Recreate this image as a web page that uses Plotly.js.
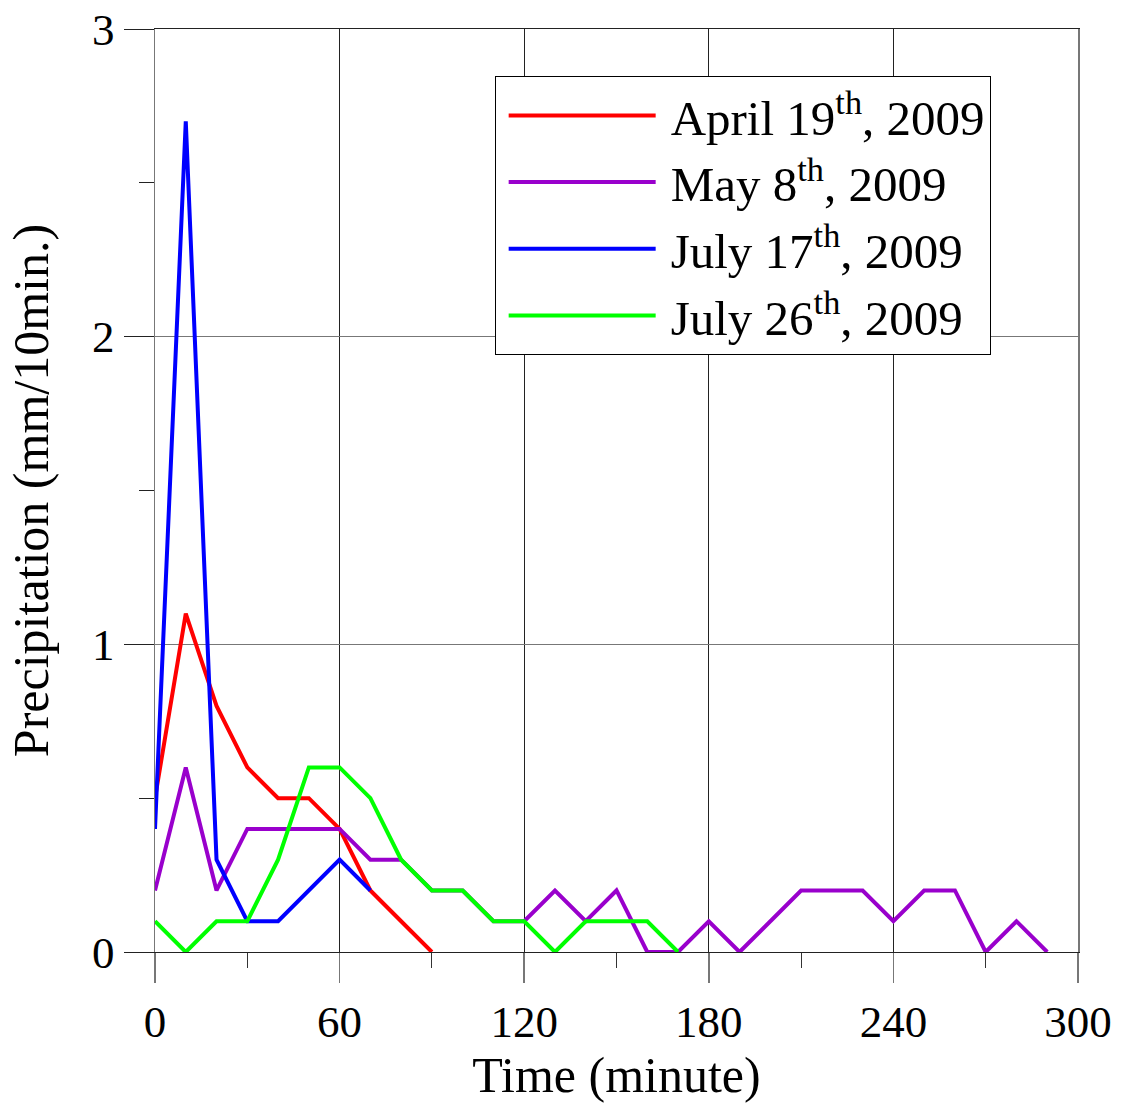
<!DOCTYPE html>
<html>
<head>
<meta charset="utf-8">
<script src="https://cdn.plot.ly/plotly-3.0.1.min.js"></script>
<style>html,body{margin:0;padding:0;background:#fff;}#chart{width:1121px;height:1108px;}</style>
</head>
<body>
<div id="chart"></div>
<script>
// Time axis (minutes) and series values (mm/10min.)
const timeApr19 = [0,10,20,30,40,50,60,70,80,90];
const precipApr19 = [0.5,1.1,0.8,0.6,0.5,0.5,0.4,0.2,0.1,0];

const timeMay8 = [0,10,20,30,40,50,60,70,80,90,100,110,120,130,140,150,160,170,180,190,200,210,220,230,240,250,260,270,280,290];
const precipMay8 = [0.2,0.6,0.2,0.4,0.4,0.4,0.4,0.3,0.3,0.2,0.2,0.1,0.1,0.2,0.1,0.2,0,0,0.1,0,0.1,0.2,0.2,0.2,0.1,0.2,0.2,0,0.1,0];

const timeJul17 = [0,10,20,30,40,50,60,70];
const precipJul17 = [0.4,2.7,0.3,0.1,0.1,0.2,0.3,0.2];

const timeJul26 = [0,10,20,30,40,50,60,70,80,90,100,110,120,130,140,150,160,170];
const precipJul26 = [0.1,0,0.1,0.1,0.3,0.6,0.6,0.5,0.3,0.2,0.2,0.1,0.1,0,0.1,0.1,0.1,0];

const seriesNames = ['April 19<sup>th</sup>, 2009','May 8<sup>th</sup>, 2009','July 17<sup>th</sup>, 2009','July 26<sup>th</sup>, 2009'];
const seriesColors = ['#ff0000','#9900cc','#0000ff','#00ff00'];
const xTickVals = [0,60,120,180,240,300];
const yTickVals = [0,1,2,3];

const FONT = 'Liberation Serif, Times New Roman, Times, serif';
const xs = [timeApr19, timeMay8, timeJul17, timeJul26];
const ys = [precipApr19, precipMay8, precipJul17, precipJul26];

const traces = xs.map((x, i) => ({
  type: 'scatter', mode: 'lines', x: x, y: ys[i], name: seriesNames[i],
  line: {color: seriesColors[i], width: 4}
}));

const layout = {
  width: 1121, height: 1108,
  margin: {l: 155, r: 43, t: 29, b: 156},
  paper_bgcolor: '#fff', plot_bgcolor: '#fff',
  font: {family: FONT, color: '#000', size: 45},
  showlegend: true,
  legend: {
    x: 0.368, y: 0.949, xanchor: 'left', yanchor: 'top',
    bgcolor: '#fff', bordercolor: '#000', borderwidth: 1,
    font: {family: FONT, size: 49, color: '#000'},
    itemwidth: 165, tracegroupgap: 0, entrywidth: 340
  },
  xaxis: {
    range: [0, 300], tickvals: xTickVals, ticktext: xTickVals.map(String),
    showgrid: true, gridcolor: '#222', gridwidth: 1,
    showline: true, linecolor: '#222', linewidth: 1, mirror: true,
    ticks: 'outside', ticklen: 30, tickcolor: '#777', tickwidth: 1.5,
    minor: {dtick: 30, tick0: 0, ticks: 'outside', ticklen: 15, tickcolor: '#333', tickwidth: 1, showgrid: false},
    zeroline: false,
    tickfont: {family: FONT, size: 45, color: '#000'},
    title: {text: 'Time (minute)', font: {family: FONT, size: 50, color: '#000'}, standoff: 7}
  },
  yaxis: {
    range: [0, 3], tickvals: yTickVals, ticktext: yTickVals.map(String),
    showgrid: true, gridcolor: '#777', gridwidth: 1.2,
    showline: true, linecolor: '#777', linewidth: 1.5, mirror: true,
    ticks: 'outside', ticklen: 30, tickcolor: '#222', tickwidth: 1,
    minor: {dtick: 0.5, tick0: 0, ticks: 'outside', ticklen: 15, tickcolor: '#222', tickwidth: 1, showgrid: false},
    zeroline: false,
    tickfont: {family: FONT, size: 45, color: '#000'},
    title: {text: 'Precipitation (mm/10min.)', font: {family: FONT, size: 50, color: '#000'}, standoff: 27}
  }
};

const gd = document.getElementById('chart');
function stretchLegendLines() {
  gd.querySelectorAll('.legend .legendlines path').forEach(p => p.setAttribute('d', 'M13,0h147'));
}
Plotly.newPlot(gd, traces, layout, {staticPlot: true, displayModeBar: false}).then(() => {
  stretchLegendLines();
  gd.on('plotly_afterplot', stretchLegendLines);
});
</script>
</body>
</html>
